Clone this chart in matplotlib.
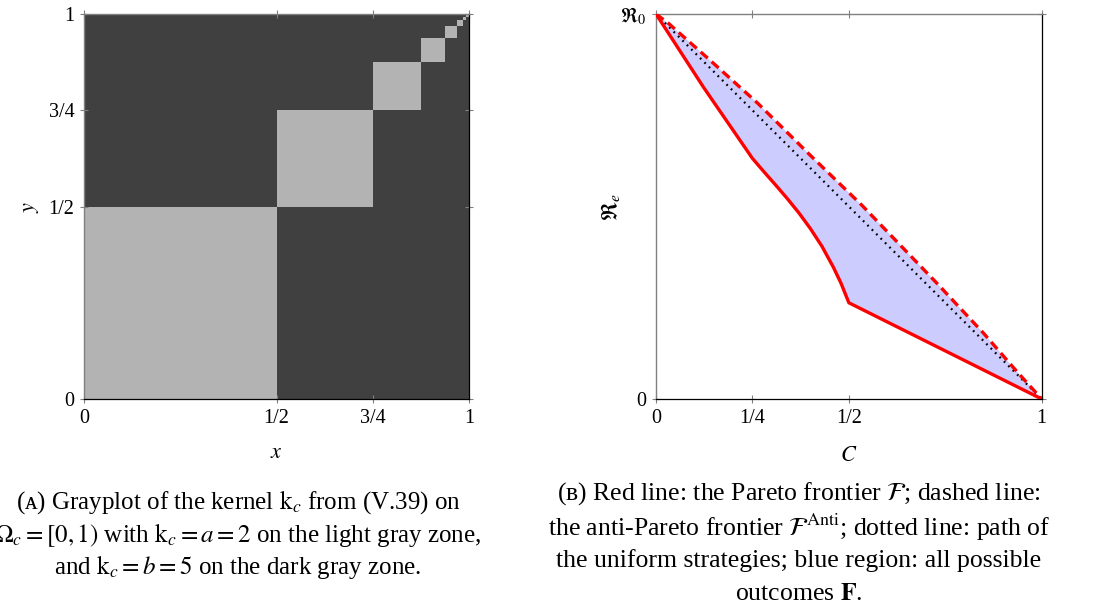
import numpy as np
import matplotlib
matplotlib.use("Agg")
import matplotlib.pyplot as plt
from matplotlib.colors import ListedColormap

plt.rcParams["font.family"] = ["Liberation Serif", "DejaVu Serif"]
plt.rcParams["mathtext.fontset"] = "stix"

# kernel k_c: value a on the diagonal blocks, b elsewhere
a_val = 2
b_val = 5
block_edges = [0, 1/2, 3/4, 7/8, 15/16, 31/32, 63/64, 127/128, 1]
x_ticks_left = [0, 1/2, 3/4, 1]
x_labels_left = ["0", "1/2", "3/4", "1"]

# outcomes: Pareto frontier, anti-Pareto frontier, uniform strategies
pareto_c = [0, 0.123, 0.25, 0.28, 0.31, 0.34, 0.37, 0.40, 0.43, 0.46,
            0.48, 0.5, 1]
pareto_r = [1, 0.81, 0.625, 0.59, 0.556, 0.521, 0.484, 0.443, 0.397, 0.342,
            0.30, 0.25, 0]
anti_c = [0, 0.032, 0.14, 0.265, 0.40, 0.533, 0.728, 0.85, 0.935, 1]
anti_r = [1, 0.976, 0.88, 0.767, 0.633, 0.504, 0.301, 0.17, 0.072, 0]
uniform_c = [0, 1]
uniform_r = [1, 0]
x_ticks_right = [0, 1/4, 1/2, 1]
x_labels_right = ["0", "1/4", "1/2", "1"]

light = "#b3b3b3"
dark = "#404040"
tick_gray = "#808080"

fig = plt.figure(figsize=(11.05, 6.15), dpi=100)


def style_axes(ax):
    ax.tick_params(direction="inout", length=6, width=0.8, color=tick_gray,
                   labelsize=14.5, top=True, right=True, pad=4)
    for side in ["left", "top"]:
        ax.spines[side].set_color(tick_gray)
        ax.spines[side].set_linewidth(1.0)
    for side in ["right", "bottom"]:
        ax.spines[side].set_color("black")
        ax.spines[side].set_linewidth(0.9)


# left panel: grayplot of the kernel
ax1 = fig.add_axes([84 / 1105, 1 - 399 / 615, 385 / 1105, 385 / 615])
n = len(block_edges) - 1
kernel = np.where(np.eye(n, dtype=bool), a_val, b_val)
cmap = ListedColormap([light, dark])
ax1.pcolormesh(block_edges, block_edges, kernel, cmap=cmap,
               vmin=a_val, vmax=b_val, shading="flat")
ax1.set_xlim(0, 1)
ax1.set_ylim(0, 1)
ax1.set_xticks(x_ticks_left, x_labels_left)
ax1.set_yticks(x_ticks_left, x_labels_left)
style_axes(ax1)
ax1.set_xlabel("$x$", fontsize=16, labelpad=12)
ax1.set_ylabel("$y$", fontsize=16, labelpad=5)

# right panel: set of outcomes
ax2 = fig.add_axes([656 / 1105, 1 - 399 / 615, 385.7 / 1105, 385 / 615])
fill_c = pareto_c + anti_c[::-1]
fill_r = pareto_r + anti_r[::-1]
ax2.fill(fill_c, fill_r, color="#ccccff", lw=0, zorder=1)
ax2.plot(uniform_c, uniform_r, color="black", lw=1.6,
         linestyle=(0, (0.8, 2.0)), zorder=2)
ax2.plot(anti_c, anti_r, color="red", lw=2.4,
         linestyle=(0, (2.8, 1.6)), zorder=3)
ax2.plot(pareto_c, pareto_r, color="red", lw=2.4, zorder=4,
         solid_joinstyle="round")
ax2.set_xlim(0, 1)
ax2.set_ylim(0, 1)
ax2.set_xticks(x_ticks_right, x_labels_right)
ax2.set_yticks([0, 1], ["0", r"$\mathfrak{R}_0$"])
style_axes(ax2)
ax2.set_xlabel("$C$", fontsize=16, labelpad=14)
ax2.set_ylabel(r"$\mathfrak{R}_e$", fontsize=16, labelpad=-2)

# captions
cap_size = 18
fig.text(238 / 1105, 1 - 502 / 615,
         r"(ᴀ) Grayplot of the kernel $\mathrm{k}_c$ from (V.39) on",
         ha="center", va="center", fontsize=cap_size)
fig.text(238 / 1105, 1 - 535 / 615,
         r"$\Omega_c = [0, 1)$ with $\mathrm{k}_c = a = 2$ on the light gray zone,",
         ha="center", va="center", fontsize=cap_size)
fig.text(238 / 1105, 1 - 567 / 615,
         r"and $\mathrm{k}_c = b = 5$ on the dark gray zone.",
         ha="center", va="center", fontsize=cap_size)

cap_b = 18.5
fig.text(799 / 1105, 1 - 494 / 615,
         r"(ʙ) Red line: the Pareto frontier $\mathcal{F}$; dashed line:",
         ha="center", va="center", fontsize=cap_b)
fig.text(799 / 1105, 1 - 527 / 615,
         r"the anti-Pareto frontier $\mathcal{F}^{\mathrm{Anti}}$; dotted line: path of",
         ha="center", va="center", fontsize=cap_b)
fig.text(799 / 1105, 1 - 561 / 615,
         "the uniform strategies; blue region: all possible",
         ha="center", va="center", fontsize=cap_b)
fig.text(799 / 1105, 1 - 594 / 615,
         r"outcomes $\mathbf{F}$.",
         ha="center", va="center", fontsize=cap_b)

fig.savefig("out.png", dpi=100)
